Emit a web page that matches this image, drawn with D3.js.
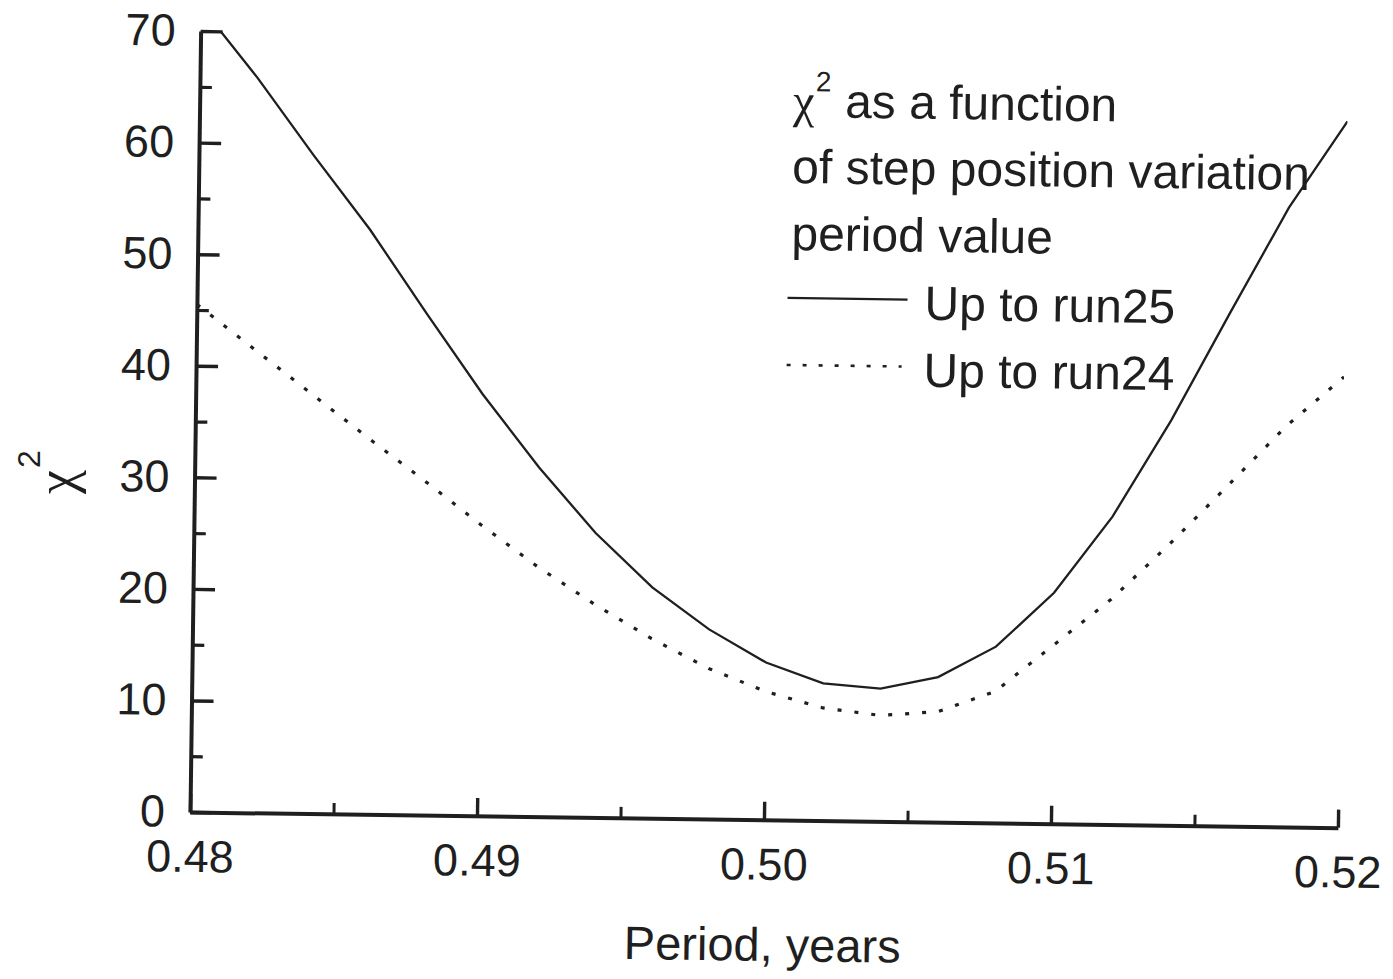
<!DOCTYPE html>
<html>
<head>
<meta charset="utf-8">
<script src="https://cdn.jsdelivr.net/npm/d3@7/dist/d3.min.js"></script>
<style>
  body { margin: 0; background: #fff; }
  svg text { font-family: "Liberation Sans", Arial, sans-serif; fill: #1f1f1f; }
</style>
</head>
<body>
<svg id="chart" width="1393" height="979"></svg>
<script>
// period values (years), one point every 0.002
const periods = [0.480, 0.482, 0.484, 0.486, 0.488, 0.490, 0.492, 0.494, 0.496, 0.498, 0.500,
  0.502, 0.504, 0.506, 0.508, 0.510, 0.512, 0.514, 0.516, 0.518, 0.520];
// chi^2, up to run25 (solid)
const chiRun25 = [72.2, 65.9, 59.0, 52.4, 45.0, 37.8, 31.3, 25.5, 20.7, 17.0, 14.1,
  12.3, 11.9, 13.0, 15.8, 20.7, 27.6, 36.3, 46.0, 55.5, 63.3];
// chi^2, up to run24 (dotted)
const chiRun24 = [45.5, 41.6, 37.7, 33.8, 30.0, 26.1, 22.4, 19.1, 16.1, 13.5, 11.5,
  10.1, 9.5, 9.9, 11.8, 16.0, 20.2, 25.2, 30.5, 35.9, 40.4];

const xMajor = [0.48, 0.49, 0.50, 0.51, 0.52];
const xMinor = [0.485, 0.495, 0.505, 0.515];
const yMajor = [0, 10, 20, 30, 40, 50, 60, 70];
const yMinor = [5, 15, 25, 35, 45, 55, 65];

const legendTitle = ["of step position variation", "period value"];
const seriesNames = ["Up to run25", "Up to run24"];

const ink = "#1f1f1f";
const x0 = 190, y0 = 812, tilt = 0.78; // scanned page is slightly rotated

const svg = d3.select("#chart");

const x = d3.scaleLinear().domain([0.48, 0.52]).range([x0, 1338]);
const y = d3.scaleLinear().domain([0, 70]).range([y0, 31]);

const plot = svg.append("g").attr("transform", `rotate(${tilt}, ${x0}, ${y0})`);

// clip so the curve stops at the top of the frame
svg.append("defs").append("clipPath").attr("id", "frame")
  .append("rect").attr("x", x0).attr("y", 31).attr("width", 1338 - x0).attr("height", y0 - 31);

// minor ticks
plot.append("g").attr("transform", `translate(${x0},0)`)
  .call(d3.axisLeft(y).tickValues(yMinor).tickSize(-12).tickFormat(""))
  .call(g => g.select(".domain").remove())
  .call(g => g.selectAll("line").attr("stroke", ink).attr("stroke-width", 3.2));
plot.append("g").attr("transform", `translate(0,${y0})`)
  .call(d3.axisBottom(x).tickValues(xMinor).tickSize(-11).tickFormat(""))
  .call(g => g.select(".domain").remove())
  .call(g => g.selectAll("line").attr("stroke", ink).attr("stroke-width", 3));

// major ticks + labels
const yAxis = plot.append("g").attr("transform", `translate(${x0},0)`)
  .call(d3.axisLeft(y).tickValues(yMajor).tickSize(-22).tickPadding(25).tickSizeOuter(0));
const xAxis = plot.append("g").attr("transform", `translate(0,${y0})`)
  .call(d3.axisBottom(x).tickValues(xMajor).tickSize(-18).tickPadding(28).tickSizeOuter(0)
    .tickFormat(d3.format(".2f")));

[yAxis, xAxis].forEach(a => {
  a.selectAll("line").attr("stroke", ink).attr("stroke-width", 3.4);
  a.select(".domain").attr("stroke", ink).attr("stroke-width", 4);
  a.selectAll("text").attr("font-size", 45).attr("fill", ink)
    .style("font-family", "'Liberation Sans', Arial, sans-serif");
});

const line = d3.line().x((d, i) => x(periods[i])).y(d => y(d));

const curves = plot.append("g").attr("clip-path", "url(#frame)");
curves.append("path").datum(chiRun25)
  .attr("d", line).attr("fill", "none").attr("stroke", ink).attr("stroke-width", 2.3);
curves.append("path").datum(chiRun24)
  .attr("d", line).attr("fill", "none").attr("stroke", ink).attr("stroke-width", 3.2)
  .attr("stroke-dasharray", "4 13");

// axis titles
plot.append("text").attr("x", 764).attr("y", y0 + 141).attr("text-anchor", "middle")
  .attr("font-size", 47).text("Period, years");

const yTitle = svg.append("text").attr("transform", "translate(74,472) rotate(-90)")
  .attr("text-anchor", "middle").attr("font-size", 54);
yTitle.append("tspan").style("font-family", "'Liberation Serif', serif").text("χ");
yTitle.append("tspan").attr("font-size", 32).attr("dy", -34).attr("dx", 2).text("2");

// legend
const legend = svg.append("g").attr("transform", `translate(793,117) rotate(${tilt})`);
const head = legend.append("text").attr("font-size", 48);
head.append("tspan").style("font-family", "'Liberation Serif', serif").text("χ");
head.append("tspan").attr("font-size", 28).attr("dy", -26).attr("dx", 1).text("2");
head.append("tspan").attr("dy", 26).attr("dx", 14).text("as a function");

legend.selectAll("text.title").data(legendTitle).enter().append("text")
  .attr("class", "title").attr("font-size", 48)
  .attr("y", (d, i) => 66 + i * 67).text(d => d);

const dashes = [null, "4 12"];
seriesNames.forEach((name, i) => {
  legend.append("line").attr("x1", -3).attr("x2", i ? 112 : 117)
    .attr("y1", 181 + i * 67).attr("y2", 181 + i * 67)
    .attr("stroke", ink).attr("stroke-width", i ? 2.6 : 2.2)
    .attr("stroke-dasharray", dashes[i]);
  legend.append("text").attr("x", 134).attr("y", 201 + i * 67)
    .attr("font-size", 48).text(name);
});
</script>
</body>
</html>
